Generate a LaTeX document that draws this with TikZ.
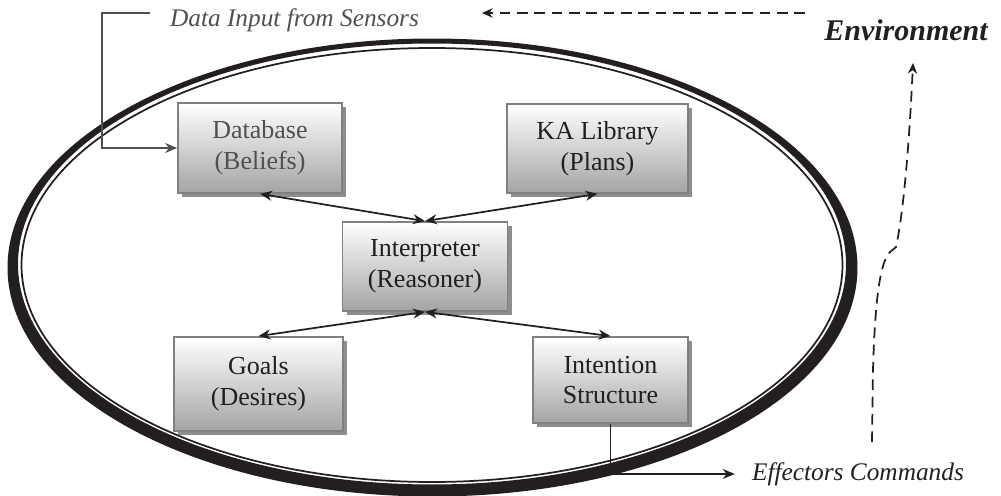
\documentclass[tikz,border=0pt]{standalone}
\usepackage{fontspec}
\setmainfont{Liberation Serif}
\usetikzlibrary{arrows.meta,shadows}

\definecolor{inkblack}{HTML}{231F20}
\definecolor{boxline}{HTML}{808080}
\definecolor{boxshade}{HTML}{A4A4A4}
\definecolor{shadowgray}{HTML}{8E8E8E}
\definecolor{softtext}{HTML}{505050}

\tikzset{every picture/.style={line width=1.3pt}}
\tikzset{
	agentbox/.style={draw=boxline, top color=white, bottom color=boxshade, align=center, text=inkblack,
		font=\fontsize{19.5}{23}\selectfont,
		drop shadow={shadow xshift=3pt, shadow yshift=-3pt, fill=shadowgray, opacity=1}},
	link/.style={draw=inkblack, {Stealth[length=9pt,width=7.5pt]}-{Stealth[length=9pt,width=7.5pt]}},
	feed/.style={draw=inkblack, -{Stealth[length=9pt,width=7.5pt]}},
	envlink/.style={draw=inkblack, line width=1.3pt, dash pattern=on 8pt off 5pt, -{Stealth[length=8pt,width=7pt]}},
	label/.style={font=\fontsize{19}{23}\selectfont\itshape, text=inkblack}}

\begin{document}
\begin{tikzpicture}[x=0.75pt,y=0.75pt,yscale=-1,xscale=1]
	\useasboundingbox (0,0) rectangle (1001,496);

	%Shape: Ellipse, thick outer ring
	\fill[inkblack, even odd rule] (432.5,267.5) ellipse (425 and 229) (432,264) ellipse (414 and 220.5);
	%Shape: Ellipse, thin inner line
	\draw[inkblack, line width=1.3pt] (432,265) ellipse (410.5 and 217);

	% Boxes
	\node[agentbox, minimum width=123pt, minimum height=67.5pt, text=softtext] (db) at (260,148) {Database\\(Beliefs)};
	\node[agentbox, minimum width=135.75pt, minimum height=66.75pt] (ka) at (597.5,148.5) {KA Library\\(Plans)};
	\node[agentbox, minimum width=123.75pt, minimum height=66.75pt] (interp) at (425,266.5) {Interpreter\\(Reasoner)};
	\node[agentbox, minimum width=126.75pt, minimum height=70.5pt] (goals) at (258.5,384) {Goals\\(Desires)};
	\node[agentbox, minimum width=116.25pt, minimum height=64.5pt] (intent) at (610.5,380) {Intention\\Structure};

	% Text Node
	\node[label, text=softtext] (sens) at (294.5,20) {Data Input from Sensors};
	% Text Node
	\node[font=\fontsize{22.5}{26}\selectfont\bfseries\itshape, text=inkblack] (env) at (906,30) {Environment};
	% Text Node
	\node[label] (eff) at (858,474) {Effectors Commands};

	\coordinate (senstart) at (150,13);
	\coordinate (envstart) at (805,13);
	\coordinate (envend) at (482,13);
	\coordinate (upstart) at (872,442);
	\coordinate (upend) at (913,63);

	% Connectors
	\draw[link] (db.south) -- (interp.north);
	\draw[link] (ka.south) -- (interp.north);
	\draw[link] (interp.south) -- (goals.north);
	\draw[link] (interp.south) -- (intent.north);
	\draw[feed, draw=softtext] (senstart) -- ++(-48,0) |- (db.west);
	\draw[feed, shorten >=9pt] (intent.south) |- (eff.west);
	\draw[envlink] (envstart) -- (envend);
	\draw[envlink] (upstart) -- (873,370) .. controls (875,300) and (880,262) .. (890,252) -- (896,247) .. controls (903,215) and (909,150) .. (upend);

\end{tikzpicture}
\end{document}
